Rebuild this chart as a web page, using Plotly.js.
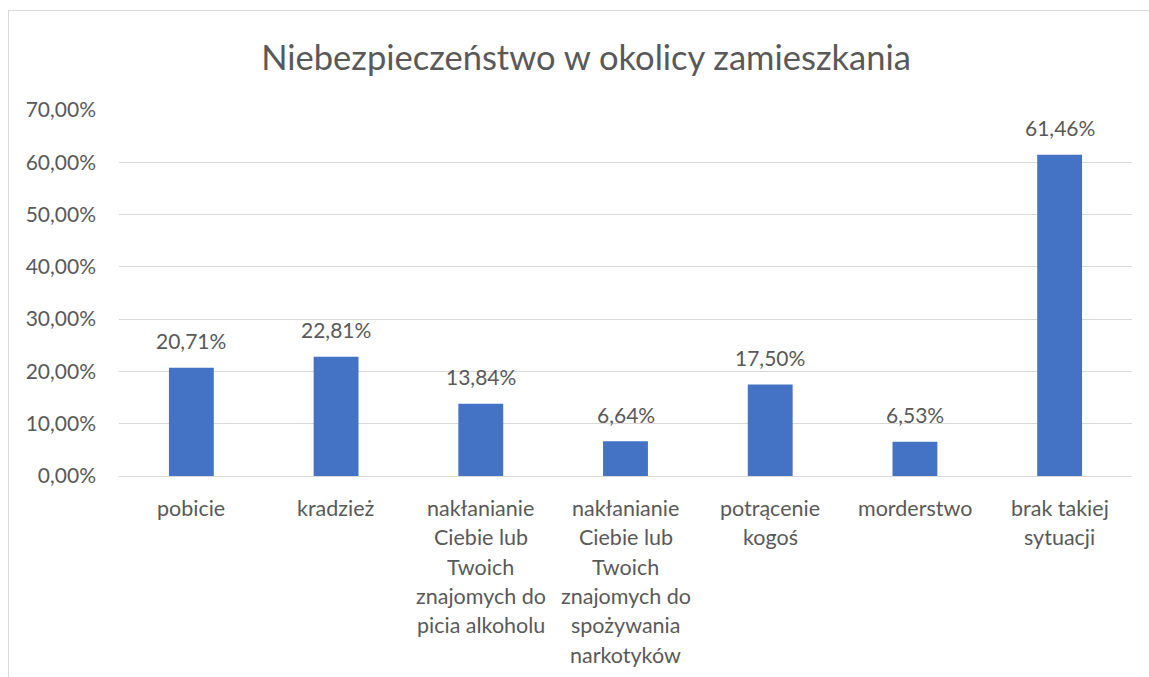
<!DOCTYPE html>
<html>
<head>
<meta charset="utf-8">
<script src="https://cdn.plot.ly/plotly-3.0.1.min.js"></script>
<style>
  html, body { margin: 0; padding: 0; background: #fff; overflow: hidden; }
  #frame { position: absolute; left: 8px; top: 10px; width: 1141px; height: 667px;
           border-left: 1px solid #d9d9d9; border-top: 1px solid #d9d9d9; }
  #chart { width: 1141px; height: 667px; }
</style>
</head>
<body>
<div id="frame"><div id="chart"></div></div>
<script>
const titleText = "Niebezpieczeństwo w okolicy zamieszkania";
const categories = [
  "pobicie",
  "kradzież",
  "nakłanianie<br>Ciebie lub<br>Twoich<br>znajomych do<br>picia alkoholu",
  "nakłanianie<br>Ciebie lub<br>Twoich<br>znajomych do<br>spożywania<br>narkotyków",
  "potrącenie<br>kogoś",
  "morderstwo",
  "brak takiej<br>sytuacji"
];
const values = [0.2071, 0.2281, 0.1384, 0.0664, 0.1750, 0.0653, 0.6146];
const yTicks = [0, 0.1, 0.2, 0.3, 0.4, 0.5, 0.6, 0.7];

const FONT = "Lato, 'Open Sans', sans-serif";
const TXT = "#595959";

const annotations = [];
// category labels (wrapped, Excel-like line spacing)
categories.forEach(function (c) {
  c.split("<br>").forEach(function (line, j) {
    annotations.push({
      x: c, xref: "x", y: 0, yref: "y",
      text: line, showarrow: false,
      yanchor: "middle", xanchor: "center",
      yshift: -(32 + j * 29.3),
      font: { family: FONT, size: 21.5, color: TXT }
    });
  });
});
// data labels above bars
categories.forEach(function (c, i) {
  annotations.push({
    x: c, xref: "x", y: values[i], yref: "y",
    text: (values[i] * 100).toFixed(2).replace(".", ",") + "%",
    showarrow: false, yanchor: "middle", xanchor: "center",
    yshift: 27,
    font: { family: FONT, size: 21, color: TXT }
  });
});

const trace = {
  type: "bar",
  x: categories,
  y: values,
  marker: { color: "#4472C4" },
  hoverinfo: "none"
};

const layout = {
  width: 1141, height: 667,
  margin: { l: 110, r: 18, t: 99, b: 202 },
  paper_bgcolor: "#ffffff",
  plot_bgcolor: "#ffffff",
  separators: ", ",
  showlegend: false,
  bargap: 0.69,
  title: {
    text: titleText,
    x: (586 - 9) / 1141, xanchor: "center",
    y: 1 - 47 / 667, yanchor: "middle",
    font: { family: FONT, size: 34.5, color: TXT }
  },
  xaxis: {
    type: "category",
    showticklabels: false,
    showgrid: false,
    zeroline: false,
    showline: false,
    ticks: ""
  },
  yaxis: {
    range: [0, 0.7],
    tickvals: yTicks,
    tickformat: ".2%",
    showgrid: true,
    gridcolor: "#d9d9d9",
    gridwidth: 1,
    zeroline: true,
    zerolinecolor: "#d9d9d9",
    zerolinewidth: 1,
    showline: false,
    ticks: "",
    ticklabelstandoff: 22,
    tickfont: { family: FONT, size: 21, color: TXT }
  },
  annotations: annotations
};

Plotly.newPlot("chart", [trace], layout, { displayModeBar: false, staticPlot: true });
</script>
</body>
</html>
